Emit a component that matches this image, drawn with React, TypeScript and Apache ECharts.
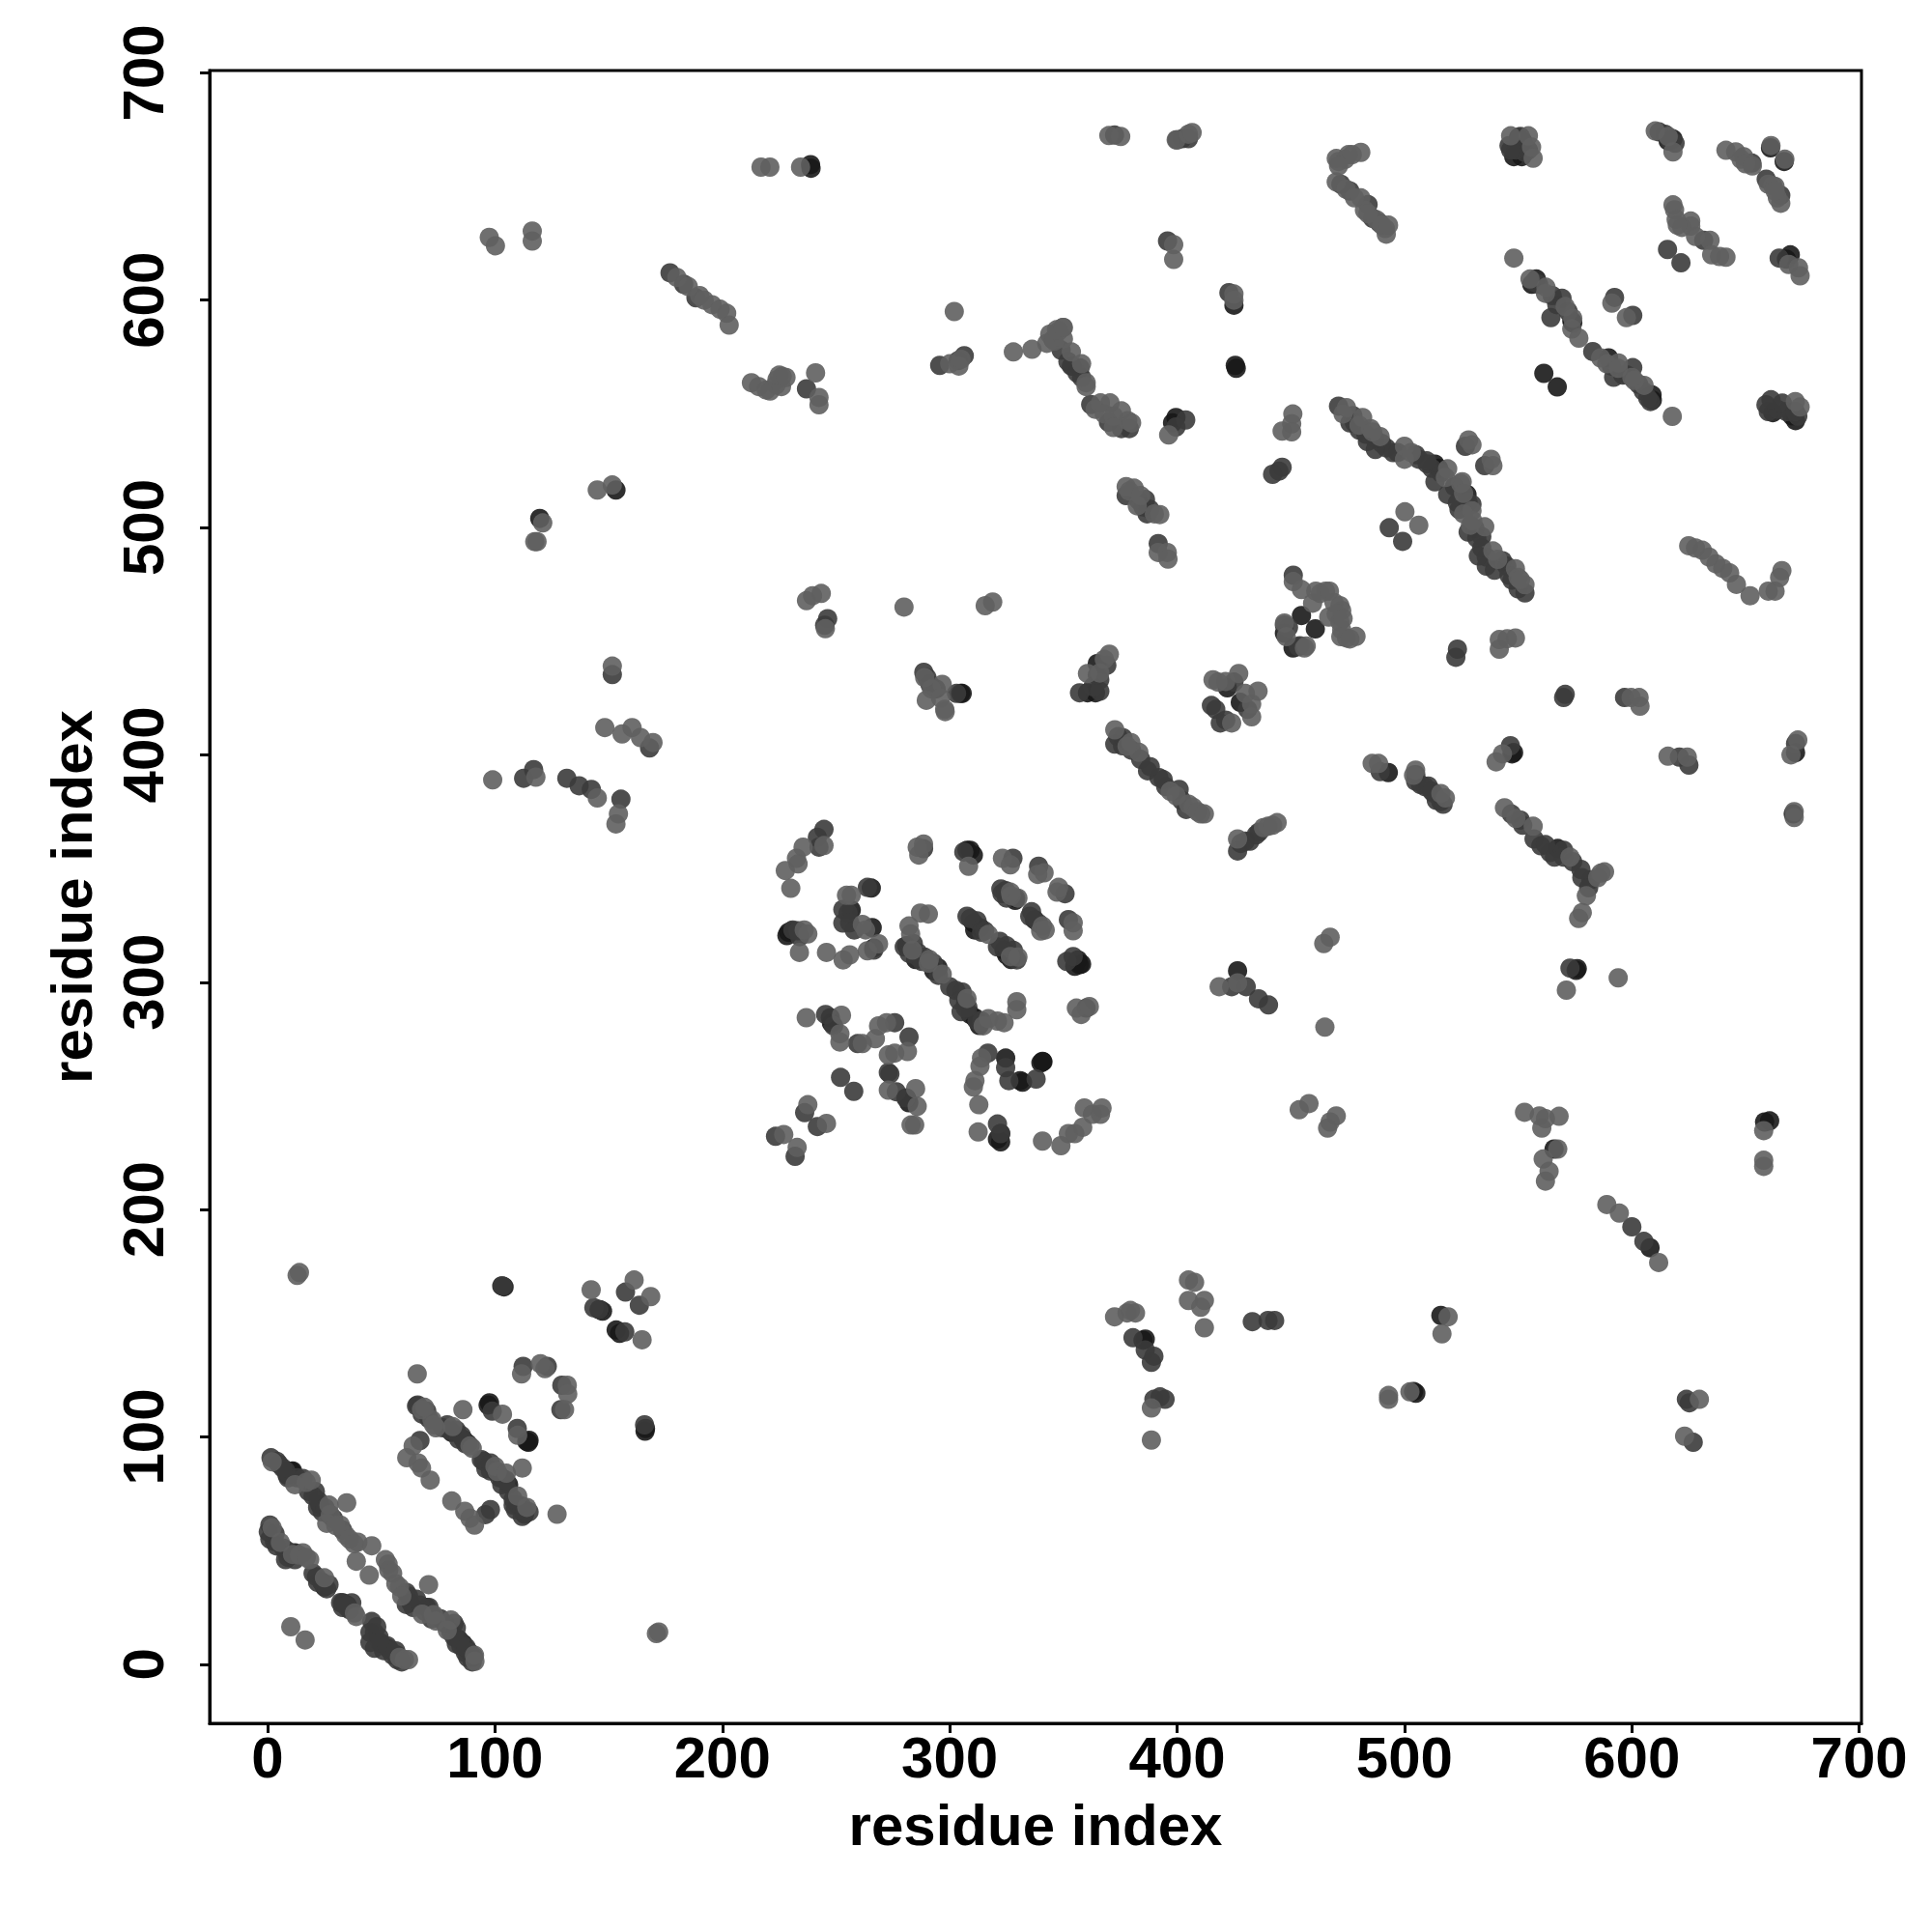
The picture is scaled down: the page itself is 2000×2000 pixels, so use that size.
import React, { useEffect, useRef } from "react";
import * as echarts from "echarts";

const tickValues = [0, 100, 200, 300, 400, 500, 600, 700];
const axisTitle = "residue index";

const darkPoints: number[][] = [
[8.6,83.2],[10.5,84.8],[11,85],[23,70],[27,66],[72,22],[70,25],[84,11],[86,9],[88,6],[90,3],[10,48],[12,49],[24,36],[25,34],[33,27],[35,26],[50,9],[53,7],[57,4],
[103,166.4],[104,166],[147.3,155.3],[146,156],[153.3,147],[154.8,145.5],[166.2,103.7],[166,102.5],[97.6,115],[97,114],[114.7,97.6],[114,98],[115,98.5],[81,102],[86,99],[88,97],[100,85],[103,82],[106,79],[110,70],[112,68],[113,66],
[265.5,341.4],[256.7,331.8],[265.9,324],[266.6,315],[230.5,322.6],[229.1,321.9],[228.4,320.5],[307.6,358],[309,358],[310.4,355.9],[328.8,336],[329,337],[337.3,327.5],[356.4,309.8],[357.1,307.7],[355,307],[358,308],[340.8,265.2],[340.1,264.5],[341,265],[331,256.7],[332,256],[324.6,266.6],[322.4,233.4],[322.4,229.8],[321,231],
[247.5,284.4],[248,282],[281,249],[282,247],[310.4,326.1],[313.3,324],[311,323],[323.9,314.1],[325,312],[327,310],[285,310],[294.9,306.3],[293,305],[307,291],[309,285.8],[311.1,284.3],[313,281],[281,316],
[399.5,548.4],[398,546],[454.7,461.3],[460.8,455.4],[447.2,453.5],[451,447],[422.1,429.5],[427.8,423.1],[364.1,427.3],[360.6,427.3],[364.9,440.1],[513.4,527.9],[515,526],[492.9,392.2],[527.5,514.5],[547.3,400.4],[548,401],
[550.2,671.6],[550.4,668],[548.1,663.1],[551.6,663.1],[552,670],[618.1,670.9],[616,670],[661,667],[667,661],[558,609.3],[556,607],[573.6,590.9],[574,590],[589.8,574.6],[608.9,558.3],[609,556],[561.3,567.8],[567.2,561.8],[662,550.5],[670.4,549.1],[672,547],[669.7,619.9],[668,618],
[304.8,427],[305.5,427],[153.2,516.5],[119.7,504],[238.8,659.6],[239,658],[425,597.8],[425.6,571.3],[426,570],[426.6,305],[567.4,358.8],[575.5,305.2],[576,306],[505,119.2],[504,120],[658.4,238.5],[660.6,239],[565.8,226.6],[516,153.4],[385,142.5],[386,143],[608,183.2],[672,401],[671,374]
];

const bandMidPoints: number[][] = [
[5,88],[8,85],[9,82],[13,82],[18,76],[21,76],[22,69],[24,67],[29,64],[33,59],[62,30],[63,27],[64,25],[67,26],[71,25],[72,20],[76,20],[78,18],[82,18],[83,16],[82,12],[85,8],[83,9],[87,5],[89,5],[88,3],[90,1],
[1,55],[3,54],[4,52],[7,51],[9,47],[12,46],[20,40],[22,36],[27,35],[33,25],[36,24],[37,27],[45,14],[47,14],[49,12],[47,7],[51,6],[54,6],[55,4],[57,2],[59,1],
[66,114],[68,110],[71,108],[77,104],[80,103],[83,103],[84,99],[87,97],[94,90],[96,86],[98,85],[102,82],[103,79],[106,76],[108,70],[109,68],[112,65],[115,67],
[284,317],[286,313],[289,311],[295,303],[300,298],[304,292],[305,287],[308,289],[312,283],[309,328],[312,327],[314,322],[322,318],[325,316],[328,314],[323,339],[325,337],[336,331],[339,326],[231,323],[234,320],[253,332],[253,326],[258,323],
[476,546],[478,546],[483,541],[487,539],[490,537],[492,535],[497,533],[505,532],[510,528],[512,526],[516,524],[522,518],[528,511],[524,508],[528,498],[534,496],[534,491],[536,487],[536,483],[545,483],[546,479],[550,473],
[557,608],[559,607],[565,602],[567,598],[572,595],[591,571],[596,567],[598,567],[603,563],[605,560],[607,557],[547,374],[552,369],[557,363],[560,360],[564,357],[566,355],[570,358],[574,353],[578,346],[582,345],
[374,408],[376,404],[380,402],[384,398],[387,393],[392,390],[395,386],[402,380],[404,376],[428,361],[432,362],[436,366],[507,387],[509,386],[513,383],[514,380],
[472,651],[476,648],[484,642],[486,636],[489,634],[546,668],[549,666],[553,665],[551,672],[612,674],[617,670],[619,669],[659,554],[660,551],[664,552],[668,551],[673,549],[349,578],[352,573],[354,571],[356,568],[358,566],[383,512],[385,509],[388,508],[449,456],[454,448],[366,433],[363,430],[366,428],[425,432],[431,420],[417,420],[419,414],[290,434],[294,429],[303,427]
];

const midPoints: number[][] = [
[1.5,90.8],[4,89.3],[6.7,86.3],[15.5,81.7],[20,74],[22.3,71.9],[25.3,68.8],[61,31.6],[61,26.3],[65.5,28.6],[69.2,23.3],[80.6,14.2],[84.4,10.4],[87.4,7.4],[90.5,3.6],[1,61.2],[0.3,58.2],[3.3,57.4],[8.6,49.9],[7.9,46],[21.5,38.5],[23.8,36.2],[26,33.2],[32.1,27.1],[34.4,25.6],[45.8,18.8],[48,16.5],[45,9.6],[49.5,9.6],[52.6,8.1],[56.4,5.9],
[143.5,156.8],[145.8,156],[157.4,163.7],[163.5,157.9],[157.1,146.2],[165.8,105.3],[103.3,166.4],[98.8,111.3],[109.8,103.7],[67,98.4],[65.5,113.6],[70,111.3],[79,105.3],[85.2,100.7],[95,89.3],[98,88.5],[104.8,81],[108,72.6],[111.7,69.6],[113.2,67.3],[95.8,65.8],[98,68],[112.4,131],[129,112],[123,131],[129.4,122.7],
[244.7,367.2],[241.8,363.7],[242.5,359.4],[263.8,341.7],[255.3,330.4],[256,326.1],[266.6,314.1],[233.3,322.6],[288.5,358.7],[306.2,357.3],[327.8,354.5],[339.1,351],[350.7,338.9],[322.5,341],[324.6,340.3],[335.2,329],[352.2,327.5],[351.5,309.1],[354.3,311.3],[360,288.6],[280,315.5],[282.1,312.7],[285.7,311.3],[287.8,309.1],[292.8,308.4],[302.7,296.4],[305.5,295.7],[306.9,288.6],[314,282.9],[307.6,329],[315.4,322.6],[321,315.5],[329.5,309.8],[245.4,285.8],[248.9,280.8],[259.5,273],[275.8,282.2],[282.1,275.9],[273,260.3],[273.7,259.6],[252,258.1],[257.8,252],[276.5,251.8],[280.7,249],[316.8,268.8],[324.6,262.4],[326,256.7],[338,257.4],[321,237.6],[322.4,233.4],[236.2,242.6],[241.8,236.5],[223.4,232.2],[232,223.4],
[362,554.1],[369.8,546.3],[375.5,543.5],[379,543.5],[399.5,544.2],[403.8,547.3],[446.2,526.5],[444.8,524.8],[442,523.4],[471,553.4],[477.3,549.2],[480.1,542.8],[483.7,537.8],[487.2,534.3],[495,532.9],[506.3,530],[509.8,529.3],[513.4,520.1],[519,514.5],[377.6,514],[386.1,512.3],[386.8,506],[391.7,492.9],[493.3,499.9],[499.2,493.9],[447.2,457.1],[453.3,447.6],[451.1,479],[369.1,439.4],[364.9,435.1],[357.1,427.3],[415.1,421.7],[421.4,415.3],[372.6,404.7],[376.2,407.5],[388.2,394.8],[393.9,389.1],[400.9,384.8],[523.3,446.5],[522.6,442.9],[489.3,392.6],[504.9,388.4],[510.5,386.3],
[529.7,510.2],[523.3,510.9],[531,499.6],[531.8,495.3],[532.5,487.5],[543.1,485.4],[539.6,481.2],[547.3,476.9],[553,471.2],[526.8,535.7],[535.3,527.2],[570.7,426.6],[570,425.2],[596.8,425.2],[546.6,404],[620.9,399],[625.1,395.5],
[546.7,666],[554.5,666],[614.6,673],[652.8,660.3],[659.1,653.2],[665.5,646.1],[631.6,626.3],[664.8,618.5],[569.3,600.8],[564.4,592.3],[592.4,601.2],[600.4,593.3],[582.8,577.4],[592,566.1],[600.4,570.3],[608.2,555.4],[661.2,556.2],[666.2,554.7],[671.9,551],[615.7,622.3],[621.6,616.4],
[177,612],[183,607],[188.4,601],[237,561],[295.6,571.3],[303.7,573.4],[306.4,575.6],[357.3,570.2],[353.5,571],[505,391.3],[512,384],[516,379.4],[517,378.3],[551,371.3],[562,360.5],[570,355],[577.6,349.6],[581,341.5],[572.8,306.2],[426.6,357.7],[430,362],[434.8,364.8],[424,298],[430.4,298],[435.8,292.7],[440.2,290],[380.6,143.6],[386,138.2],[388.7,132.8],[389.8,135.5],[389.8,116.5],[392.5,117.6],[394.7,116.5],[600,192.4],[605.3,186],[624,116.5],[625.3,115],[627,97.6],[131.6,389.7],[137,386.4],[142.4,384.8],[112.6,389.7],[117,393.5],[151.6,435.3],[395.8,626],[422.8,603.3],[400,670.5],[402.3,671],[405,671],[245,457],[246.3,459.9],[288.6,436.3],[291.3,431],[433.1,150.7],[440,151.2],[442.9,151.2],[372.5,672.6],[168,403],[155.4,380.5],[672,405]
];

const lightPoints: number[][] = [
[13,171],[14,172.3],[10.2,16.5],[16.5,10.7],[171,13.5],[172,14.2],[19.2,81],[27.6,65.8],[26,62],[32,61.2],[34.4,56.7],[39.7,53.7],[45.8,52.1],[51.8,46],[53.3,41.5],[56.4,35.4],[73,21.8],[80.6,19.5],[91.2,1.3],[5.6,53.6],[11,48.3],[15.5,49],[18.5,46],[38.2,22.5],[60.2,2],[142.3,164.7],[161.2,169],[168.5,161.7],[164.7,142.7],[65.8,127.7],[111.7,127.7],[120,132.2],[122,130],[131.8,122.7],[132,118.9],[130.6,112],[103.3,110],[85.9,112],[110,100.7],[112,86.3],[127.3,66],[67.7,112],[72.3,107.5],[73,105.3],[81.4,104.5],[89,96],[64,96],[61.2,90.8],[66.2,88.5],[67.7,86.3],[71.5,81],[101,84.8],[81,71.8],[86.7,67.3],[89,64.2],[91,61.2],[34.8,71],[39,45.3],[44.7,39.2],[70.8,35],
[244.7,360.1],[235.5,359.4],[232.6,354.5],[233.3,352],[227.7,349.1],[230.1,341.3],[256.7,338.2],[254.6,338.2],[261.6,325.4],[268.7,316.9],[263.8,313.8],[256,312],[253.1,309.8],[245.8,313.1],[237.6,321.2],[233.9,313.1],[288.5,360.8],[286.4,355.9],[285.7,359.4],[308.3,351],[323.2,354.5],[326.7,351.6],[341.5,348.1],[338.7,347.4],[347.9,341.7],[347.2,339.6],[326.7,339.6],[340.8,324.7],[340,322.5],[354.3,326.1],[354.3,322.6],[357.8,285.8],[355.7,288.6],[361.4,289.3],[290.6,330],[287.1,330.4],[282.1,324.7],[282.8,321.2],[283.6,314.1],[290.6,308.4],[296.7,303.5],[307.6,292.8],[314.7,280.8],[321,282.9],[323.9,282.2],[329.5,291.4],[329.5,287.9],[326.7,311.3],[236.9,284.4],[252.4,285.5],[251.7,277.3],[251.7,273.7],[261.6,273],[267.3,275.1],[268.7,280.8],[272.2,282.2],[281.4,269.5],[275.8,268.8],[273,268],[273,252.5],[285.7,245.4],[285,253.2],[283,237.2],[284.6,237.2],[314,266.6],[313.3,263],[311.1,256.7],[310.4,253.9],[312.8,246.1],[312.5,234.1],[340.8,230.1],[348.9,228.1],[352.2,233.4],[355,233.4],[358.5,236.2],[359.2,244.7],[362.8,241.9],[366.3,241.9],[367,244.7],[237.6,246.1],[245.8,237.9],[227,233],[232.9,227.3],
[360,562],[366.3,554.8],[370.5,554.8],[375.5,551.3],[378.3,547],[396.3,540.7],[450.9,549.9],[450.4,545.6],[450.4,542.1],[446.2,542.4],[474.5,552.7],[481.6,548.4],[485.1,543.5],[489.3,540],[500,535.7],[500,530],[519,525.8],[524.7,519.4],[377.6,518],[381.1,517.3],[382.5,509.5],[392.4,505.7],[391.7,489],[395.7,489],[396,486.1],[500.2,506.9],[506.3,501],[451.1,476.2],[454.7,472.7],[461,472],[465.3,472],[459.6,466.7],[471.6,465.6],[472.4,463.5],[466.7,460.6],[471.6,458.5],[447.2,458],[456.8,447.9],[472.4,455],[474.5,451.4],[478.7,452.1],[370.2,444.3],[360.6,435.8],[415.8,433],[421.4,432.3],[427.1,435.8],[435.6,428],[432.8,422.4],[432.8,416.7],[372.6,411],[379.7,405.4],[383.2,401.1],[541.7,450.7],[541.7,446.5],[548.8,451.4],[545.2,451.1],[485.8,396.2],[488.6,396.2],[504.9,393.3],
[525.4,520.1],[529.7,507.4],[529,501],[535.3,500.3],[538.9,489.7],[548.8,481.9],[553,474.8],[528.2,538.5],[529.7,536.4],[538.1,530],[538.9,527.2],[599.7,425.2],[603.2,425.2],[603.6,421.4],[615.9,399.4],[624.4,399],[543.1,400.4],[540.3,396.9],
[625,492],[628,491],[631,490],[634,487],[637,484],[640,482],[643,480],[646,475],[652,470],[660,472],[663,472],[665,478],[666,481],[617.8,548.9],
[546.7,672.3],[554.5,672.3],[555.9,667.3],[556.6,662.4],[610.3,674.4],[618.1,665.2],[641.4,665.9],[645.7,665.2],[649.2,663.1],[661.2,668],[667.3,662],[662,650.3],[665.5,642.6],[618.1,641.9],[618.8,639.7],[619.5,635.5],[625.9,634.8],[625.9,632.6],[634.4,626.3],[635.1,619.9],[638.6,619.2],[641.4,618.9],[669,615.7],[673.3,614.2],[674,610.7],[548.1,618.5],[555.2,609.3],[562.2,605.7],[570.7,597.2],[573.6,587.3],[576.7,583.3],[591.2,598.7],[597.6,592.3],[586.3,574.6],[594.1,572.4],[601.1,564.7],[605.4,562.5],[671.9,555.4],
[220.9,658.5],[217,658.5],[234.4,658.5],[375.2,672],[370,672.4],[399.6,670.5],[405,673],[406.6,673.7],[470,662.3],[475.4,664],[480.8,665],[470,652],[474.3,648.8],[480.8,645],[482.4,639.6],[487.8,635.3],[491.6,631.5],[492,629],[97.5,627.6],[100.2,623.9],[116.4,626],[116.4,630.4],[195.5,598],[201.9,594.2],[203,589],[180,610],[192,600],[199,596],[212.8,563.7],[219.3,560.5],[223.6,562.7],[226.3,566.5],[241,568],[242.5,557.2],[242.5,554],[302,595],[328,577.2],[336.2,578.4],[342.7,581],[348,586.5],[349.8,588],[345.4,582.7],[353.5,577.2],[360,563.7],[398.5,624.4],[398.5,617.9],[425,602.7],[145,516.5],[151.6,518.7],[117.5,493.8],[118.5,493.8],[237,467.8],[239.7,470],[243.5,471],[245.3,455.5],[279.9,465],[315.6,465.6],[318.9,467.2],[151.6,439],[148.3,412],[155.9,409.2],[160.3,412],[164,407.6],[169.5,405.4],[99,389],[118,390.2],[145,381],[154.3,374],[153.2,369.6],[296.7,431],[297.8,420],[289.7,424],[378,403.8],[399.6,382],[405,378.3],[410.4,374],[426.6,363],[440,368.6],[444,370.2],[544,376.7],[556.6,368.6],[586.4,348],[588,348.5],[578.2,330.6],[576.6,328],[572.8,355],[571.2,296.5],[594,301.9],[464.5,317],[467.3,319.8],[465,280.2],[426.6,299.7],[418.5,298],[453.7,243.9],[458,246.6],[466.2,235.8],[470,241.2],[467.3,238.5],[552.8,242.8],[559.3,241.2],[562,240],[568,241],[560.4,235.8],[561,222.2],[563.6,216.8],[562,212.5],[567.4,226.6],[658,234.7],[658,221.7],[658,219],[589,202.2],[594.5,198.4],[611.8,176.7],[388.7,98.6],[388.7,112.7],[372.5,152.8],[378,154.5],[381.7,154.5],[379.5,155.6],[405,169],[407.7,168],[405,160],[412,160],[410.4,157],[412,148],[519.2,152.8],[516.5,145.3],[493,118.2],[493,116.5],[502.4,119.8],[629.7,116.5],[623.2,100.3],[673,406.5],[670,400],[671.4,375],[671.4,372.4]
];

const bandLightPoints: number[][] = [
[2,89],[12,79],[17,80],[27,70],[30,61],[36,55],[38,53],[53,44],[55,40],[58,34],[59,30],[68,22],[74,19],[79,15],[91,4],[2,60],[14,48],[17,47],[25,38],[39,21],[58,3],[62,2],
[69,113],[74,104],[90,95],[100,87],[105,84],[110,74],[114,69],[121,502],[425,600],[289,434],[292,429],[296,425],[298,419],[549,372],[585,346],[580,338],[397,384],[407,377],[409,375],[412,374],[438,368],[442,369],[504,391],[518,381],[516,383],
[562,603],[574,592],[589,572],[594,570],[600,566],[478,645],[484,638],[490,633],[493,633],[471,661],[474,662],[477,664],[471,659],[616,672],[648,662],[650,660],[653,659],[660,651],[663,650],[664,645],[663,648],[622,632],[620,633],[628,628],[674,553],
[473,550],[480,545],[486,542],[503,533],[518,522],[526,515],[526,506],[530,503],[541,486],[550,478],[551,477],
[291,310],[317,284],[317,321],[330,311],[327,338],[330,337],[342,323],[263,323],[236,323],[364,552],[368,550],[372,549],[372,544],[380,546],[358,572],[344,585],[346,582],[350,583],[347,587],[350,588],[379,516],[384,514],[390,506],[185,606],[190,602],[216,562],[221,560],[224,565],[226,562],[225,567],[228,566],[300,572],[304,571],[305,574],[448,452],[456,447],[463,471],[467,472],[469,467],[470,462],[473,460],[472,452],[476,451],[366,436],[368,442],[418,432],[430,427],[424,414]
];

export default function App() {
  const ref = useRef<HTMLDivElement>(null);
  useEffect(() => {
    const chart = echarts.init(ref.current!, undefined, { renderer: "svg" });
    const font = { color: "#000", fontFamily: "Liberation Sans", fontWeight: "bold" as const, fontSize: 60 };
    const axisBase = {
      type: "value" as const,
      min: -25.5,
      max: 701,
      name: axisTitle,
      nameLocation: "middle" as const,
      nameTextStyle: font,
      splitLine: { show: false },
      axisLine: { show: true, onZero: false, lineStyle: { color: "#000", width: 3 } },
      axisTick: { show: true, length: 10, lineStyle: { color: "#000", width: 3 }, customValues: tickValues },
    };
    const scatter = (data: number[][], color: string) => ({
      type: "scatter" as const,
      data,
      symbol: "circle",
      symbolSize: 20,
      silent: true,
      itemStyle: { color, opacity: 0.9 },
    });
    chart.setOption({
      animation: false,
      backgroundColor: "#fff",
      grid: { left: 217, right: 73, top: 73, bottom: 216, show: true, borderColor: "#000", borderWidth: 3, backgroundColor: "transparent" },
      xAxis: {
        ...axisBase,
        nameGap: 75,
        axisLabel: { ...font, margin: 5, customValues: tickValues, formatter: (v: number) => String(v) },
      },
      yAxis: {
        ...axisBase,
        nameGap: 113,
        min: -26,
        axisLabel: { ...font, margin: 39, rotate: 90, customValues: tickValues, formatter: (v: number) => String(v) },
      },
      series: [
        scatter(darkPoints, "#181818"),
        scatter(bandMidPoints, "#3b3b3b"),
        scatter(midPoints, "#3b3b3b"),
        scatter(lightPoints, "#5f5f5f"),
        scatter(bandLightPoints, "#5f5f5f"),
      ],
    });
    return () => chart.dispose();
  }, []);
  return <div ref={ref} style={{ position: "absolute", left: 0, top: 0, width: 2000, height: 2000 }} />;
}
